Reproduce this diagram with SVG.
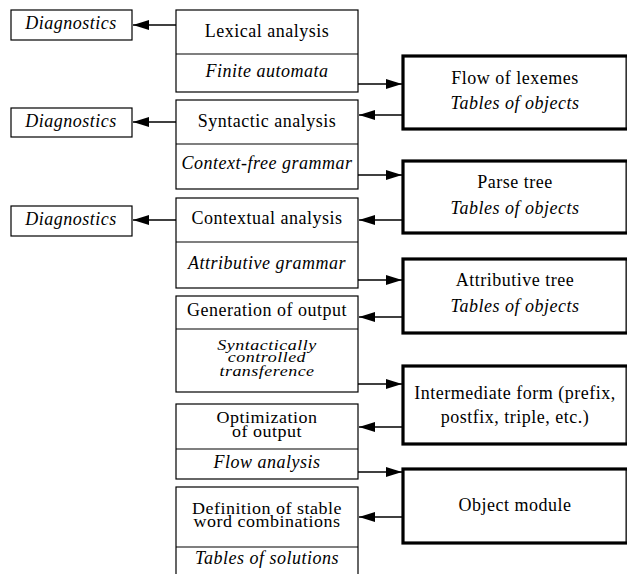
<svg xmlns="http://www.w3.org/2000/svg" width="627" height="574" viewBox="0 0 627 574">
<defs>
<marker id="ah" markerWidth="16" markerHeight="10" refX="16" refY="5" orient="auto" markerUnits="userSpaceOnUse">
<path d="M0,0 L16,5 L0,10 Z" fill="#000"/>
</marker>
<style>
.b{fill:#fff;stroke:#000;stroke-width:1.2}
.tb{fill:#fff;stroke:#000;stroke-width:3.2}
.d{stroke:#000;stroke-width:1.2}
text{font-family:"Liberation Serif","Times New Roman",serif;font-size:18px;letter-spacing:0.5px;fill:#000;text-anchor:middle}
.i{font-style:italic}
.c{stroke:#000;stroke-width:1.3;fill:none;marker-end:url(#ah)}
</style>
</defs>
<rect width="627" height="574" fill="#fff"/>
<g id="diag1"><rect class="b" x="11" y="10" width="121" height="30"/><text class="i" x="71" y="29">Diagnostics</text></g>
<g id="diag2"><rect class="b" x="11" y="108" width="121" height="29"/><text class="i" x="71" y="127">Diagnostics</text></g>
<g id="diag3"><rect class="b" x="11" y="206" width="121" height="30"/><text class="i" x="71" y="225">Diagnostics</text></g>

<g id="stage1"><rect class="b" x="176" y="10" width="182" height="82"/><line class="d" x1="176" y1="54" x2="358" y2="54"/><text x="267" y="37">Lexical analysis</text><text class="i" x="267" y="77">Finite automata</text></g>
<g id="stage2"><rect class="b" x="176" y="100" width="182" height="89"/><line class="d" x1="176" y1="144" x2="358" y2="144"/><text x="267" y="127">Syntactic analysis</text><text class="i" x="267" y="169">Context-free grammar</text></g>
<g id="stage3"><rect class="b" x="176" y="198" width="182" height="90"/><line class="d" x1="176" y1="242" x2="358" y2="242"/><text x="267" y="224">Contextual analysis</text><text class="i" x="267" y="269">Attributive grammar</text></g>
<g id="stage4"><rect class="b" x="176" y="296" width="182" height="96"/><line class="d" x1="176" y1="329" x2="358" y2="329"/><text x="267" y="316">Generation of output</text><text class="i" transform="translate(267,350) scale(1,0.85)">Syntactically</text><text class="i" transform="translate(267,362) scale(1,0.85)">controlled</text><text class="i" transform="translate(267,376) scale(1,0.85)">transference</text></g>
<g id="stage5"><rect class="b" x="176" y="404" width="182" height="75"/><line class="d" x1="176" y1="449" x2="358" y2="449"/><text transform="translate(267,423) scale(1,0.92)">Optimization</text><text transform="translate(267,437) scale(1,0.92)">of output</text><text class="i" x="267" y="468">Flow analysis</text></g>
<g id="stage6"><rect class="b" x="176" y="487" width="182" height="92"/><line class="d" x1="176" y1="547" x2="358" y2="547"/><text transform="translate(267,514) scale(1,0.9)">Definition of stable</text><text transform="translate(267,527) scale(1,0.9)">word combinations</text><text class="i" x="267" y="564">Tables of solutions</text></g>

<g id="res1"><rect class="tb" x="403" y="56" width="225" height="73"/><line x1="626" y1="56" x2="626" y2="129" stroke="#000" stroke-width="1"/><text x="515" y="84">Flow of lexemes</text><text class="i" x="515" y="109">Tables of objects</text></g>
<g id="res2"><rect class="tb" x="403" y="161" width="225" height="72"/><line x1="626" y1="161" x2="626" y2="233" stroke="#000" stroke-width="1"/><text x="515" y="188">Parse tree</text><text class="i" x="515" y="214">Tables of objects</text></g>
<g id="res3"><rect class="tb" x="403" y="259" width="225" height="74"/><line x1="626" y1="259" x2="626" y2="333" stroke="#000" stroke-width="1"/><text x="515" y="286">Attributive tree</text><text class="i" x="515" y="312">Tables of objects</text></g>
<g id="res4"><rect class="tb" x="403" y="366" width="225" height="78"/><line x1="626" y1="366" x2="626" y2="444" stroke="#000" stroke-width="1"/><text x="515" y="399">Intermediate form (prefix,</text><text x="515" y="423">postfix, triple, etc.)</text></g>
<g id="res5"><rect class="tb" x="403" y="469" width="225" height="74"/><line x1="626" y1="469" x2="626" y2="543" stroke="#000" stroke-width="1"/><text x="515" y="511">Object module</text></g>

<g id="connectors">
<line class="c" x1="176" y1="25" x2="133" y2="25"/>
<line class="c" x1="176" y1="122" x2="133" y2="122"/>
<line class="c" x1="176" y1="220" x2="133" y2="220"/>
<line class="c" x1="358" y1="84" x2="402" y2="84"/>
<line class="c" x1="402" y1="115" x2="359" y2="115"/>
<line class="c" x1="358" y1="175" x2="402" y2="175"/>
<line class="c" x1="402" y1="220" x2="359" y2="220"/>
<line class="c" x1="358" y1="280" x2="402" y2="280"/>
<line class="c" x1="402" y1="317" x2="359" y2="317"/>
<line class="c" x1="358" y1="384" x2="402" y2="384"/>
<line class="c" x1="402" y1="427" x2="359" y2="427"/>
<line class="c" x1="358" y1="472" x2="402" y2="472"/>
<line class="c" x1="402" y1="517" x2="359" y2="517"/>
</g>
</svg>
